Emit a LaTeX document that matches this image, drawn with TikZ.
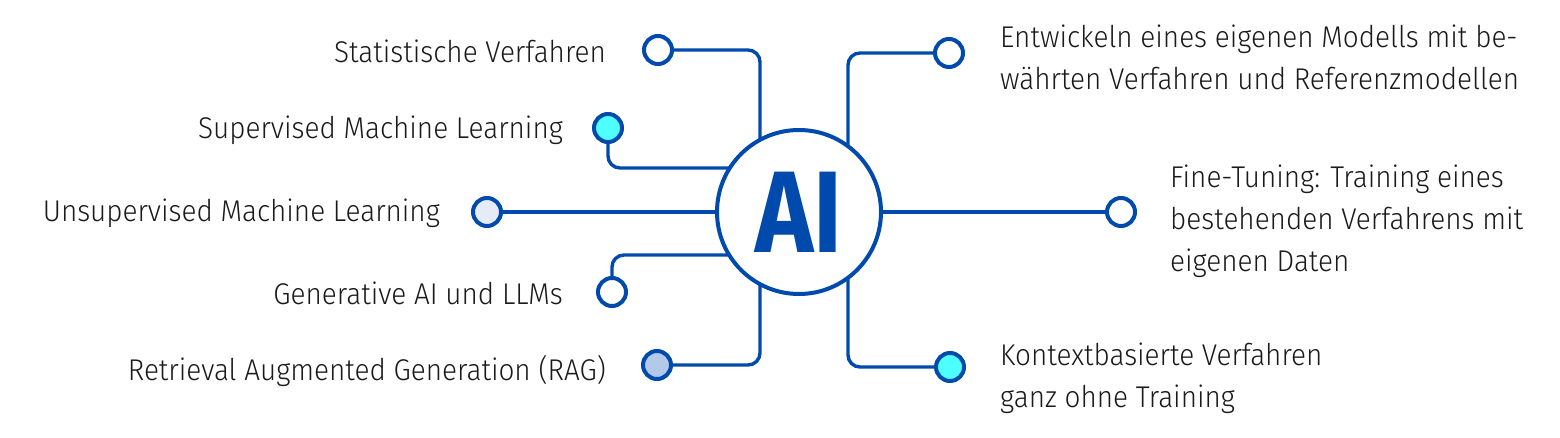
\documentclass[tikz,border=0pt]{standalone}
\usepackage{fontspec}
\setmainfont{Fira Sans}[UprightFont=* Light, BoldFont=* Bold, FakeStretch=0.93]
\newfontfamily\aifont{Fira Sans}[UprightFont=* Bold, FakeStretch=0.85]
\usetikzlibrary{calc,backgrounds}
\definecolor{aiblue}{HTML}{004AAD}
\definecolor{aicyan}{HTML}{4DFFFF}
\definecolor{ailight}{HTML}{E6ECF7}
\definecolor{airag}{HTML}{B4C8E8}
\definecolor{aitext}{HTML}{1A1A1A}
\tikzset{
  dot/.style={circle, draw=aiblue, line width=4pt, minimum size=28pt, inner sep=0pt, fill=white},
  conn/.style={draw=aiblue, line width=3.4pt, rounded corners=12pt},
  lbl/.style={text=aitext, font=\fontsize{30}{42}\selectfont, inner sep=0pt},
}
\begin{document}
\begin{tikzpicture}[x=1pt,y=-1pt]
\useasboundingbox (0,0) rectangle (1560,438);
\node[circle, draw=aiblue, line width=4pt, minimum size=164pt, fill=white, inner sep=0pt,
      text=aiblue, font=\aifont\fontsize{116}{116}\selectfont] (ai) at (799,212) {\raisebox{-2pt}{AI}};
% dots
\node[dot] (n1) at (658,50) {};
\node[dot, fill=aicyan] (n2) at (608,128) {};
\node[dot, fill=ailight] (n3) at (487,212) {};
\node[dot] (n4) at (612,292) {};
\node[dot, fill=airag] (n5) at (657,365) {};
\node[dot] (n6) at (949,53) {};
\node[dot] (n7) at (1121,212) {};
\node[dot, fill=aicyan] (n8) at (950,367) {};
\begin{scope}[on background layer]
\draw[conn] (n1.center) -| ($(ai.center)+(-39,0)$);
\draw[conn] (n2.center) |- ($(ai.center)+(0,-44)$);
\draw[conn] (n3.center) -- (ai.center);
\draw[conn] (n4.center) |- ($(ai.center)+(0,43)$);
\draw[conn] (n5.center) -| ($(ai.center)+(-39,0)$);
\draw[conn] (n6.center) -| ($(ai.center)+(49,0)$);
\draw[conn] (n7.center) -- (ai.center);
\draw[conn] (n8.center) -| ($(ai.center)+(49,0)$);
\end{scope}
% labels
\node[lbl, anchor=base east] (t1) at (606,63) {Statistische Verfahren};
\node[lbl, anchor=base east] (t2) at (563,139) {Supervised Machine Learning};
\node[lbl, anchor=base east] (t3) at (440,222) {Unsupervised Machine Learning};
\node[lbl, anchor=base east] (t4) at (563,305) {Generative AI und LLMs};
\node[lbl, anchor=base east] (t5) at (606,380) {Retrieval Augmented Generation (RAG)};
\node[lbl, anchor=base west, align=left] (t6) at (1000,90) {Entwickeln eines eigenen Modells mit be-\\währten Verfahren und Referenzmodellen};
\node[lbl, anchor=base west, align=left] (t7) at (1170,272) {Fine-Tuning: Training eines\\bestehenden Verfahrens mit\\eigenen Daten};
\node[lbl, anchor=base west, align=left] (t8) at (1000,407) {Kontextbasierte Verfahren\\ganz ohne Training};
\end{tikzpicture}
\end{document}
